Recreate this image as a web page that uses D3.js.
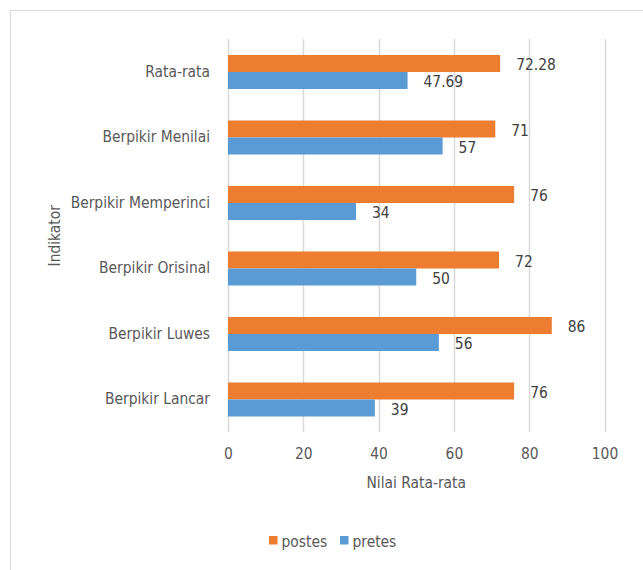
<!DOCTYPE html>
<html>
<head>
<meta charset="utf-8">
<script src="https://cdn.jsdelivr.net/npm/d3@7"></script>
<style>
  body { margin: 0; background: #fff; }
  text { font-family: "DejaVu Sans Condensed", "DejaVu Sans", sans-serif; }
</style>
</head>
<body>
<script>
// categories top to bottom, as in the picture
const categories = ["Rata-rata", "Berpikir Menilai", "Berpikir Memperinci", "Berpikir Orisinal", "Berpikir Luwes", "Berpikir Lancar"];
const postes = [72.28, 71, 76, 72, 86, 76];
const pretes = [47.69, 57, 34, 50, 56, 39];
const seriesNames = ["postes", "pretes"];
const xTicks = [0, 20, 40, 60, 80, 100];

const colors = {postes: "#ED7D31", pretes: "#5B9BD5"};
const textColor = "#595959";
const fontSize = 15.4;

const W = 643, H = 570;
const plot = {left: 228, right: 604.5, top: 39.25, bottom: 432.25};

const svg = d3.select("body").append("svg")
  .attr("width", W)
  .attr("height", H);

// chart border
svg.append("rect")
  .attr("x", 10.5).attr("y", 10.5)
  .attr("width", 650).attr("height", 580)
  .attr("fill", "none")
  .attr("stroke", "#d9d9d9");

const x = d3.scaleLinear().domain([0, 100]).range([plot.left, plot.right]);

const y = d3.scaleBand()
  .domain(categories)
  .range([plot.top, plot.bottom])
  .paddingInner(0.481)
  .paddingOuter(0.2405);

const ySeries = d3.scaleBand()
  .domain(seriesNames)
  .range([0, y.bandwidth()]);

// grid lines
svg.append("g")
  .selectAll("line")
  .data(xTicks)
  .join("line")
  .attr("x1", d => Math.round(x(d)) + 0.5)
  .attr("x2", d => Math.round(x(d)) + 0.5)
  .attr("y1", plot.top)
  .attr("y2", plot.bottom)
  .attr("stroke", "#d9d9d9")
  .attr("stroke-width", 1.5);

// x axis tick labels
const xAxis = svg.append("g")
  .attr("transform", "translate(0," + (plot.bottom + 10) + ")")
  .call(d3.axisBottom(x).tickValues(xTicks).tickSize(0).tickPadding(6));
xAxis.select(".domain").remove();
xAxis.selectAll("text")
  .attr("font-size", fontSize)
  .attr("font-family", null)
  .attr("fill", textColor);

// y axis category labels
const yAxis = svg.append("g")
  .attr("transform", "translate(" + (plot.left - 18) + ",0)")
  .call(d3.axisLeft(y).tickSize(0).tickPadding(0));
yAxis.select(".domain").remove();
yAxis.selectAll("text")
  .attr("font-size", fontSize)
  .attr("font-family", null)
  .attr("fill", textColor);

const rows = categories.map((c, i) => ({cat: c, postes: postes[i], pretes: pretes[i]}));

const groups = svg.append("g")
  .selectAll("g")
  .data(rows)
  .join("g")
  .attr("transform", d => "translate(0," + y(d.cat) + ")");

groups.selectAll("rect")
  .data(d => seriesNames.map(s => ({s: s, v: d[s]})))
  .join("rect")
  .attr("x", x(0))
  .attr("y", d => ySeries(d.s))
  .attr("width", d => x(d.v) - x(0))
  .attr("height", ySeries.bandwidth())
  .attr("fill", d => colors[d.s]);

groups.selectAll("text")
  .data(d => seriesNames.map(s => ({s: s, v: d[s]})))
  .join("text")
  .attr("x", d => x(d.v) + 16)
  .attr("y", d => ySeries(d.s) + ySeries.bandwidth() / 2 + 1.5)
  .attr("dy", "0.35em")
  .attr("font-size", fontSize)
  .attr("fill", "#404040")
  .text(d => d.v);

// axis titles
svg.append("text")
  .attr("x", (plot.left + plot.right) / 2)
  .attr("y", 483)
  .attr("dy", "0.35em")
  .attr("text-anchor", "middle")
  .attr("font-size", fontSize)
  .attr("fill", textColor)
  .text("Nilai Rata-rata");

svg.append("text")
  .attr("transform", "translate(55," + (plot.top + plot.bottom) / 2 + ") rotate(-90)")
  .attr("dy", "0.35em")
  .attr("text-anchor", "middle")
  .attr("font-size", fontSize)
  .attr("fill", textColor)
  .text("Indikator");

// legend
const legendX = [269, 340];
const legend = svg.append("g")
  .selectAll("g")
  .data(seriesNames)
  .join("g")
  .attr("transform", (d, i) => "translate(" + legendX[i] + ",536)");
legend.append("rect")
  .attr("width", 8.5).attr("height", 8.5)
  .attr("fill", d => colors[d]);
legend.append("text")
  .attr("x", 12.5)
  .attr("y", 5.5)
  .attr("dy", "0.35em")
  .attr("font-size", fontSize)
  .attr("fill", textColor)
  .text(d => d);
</script>
</body>
</html>
